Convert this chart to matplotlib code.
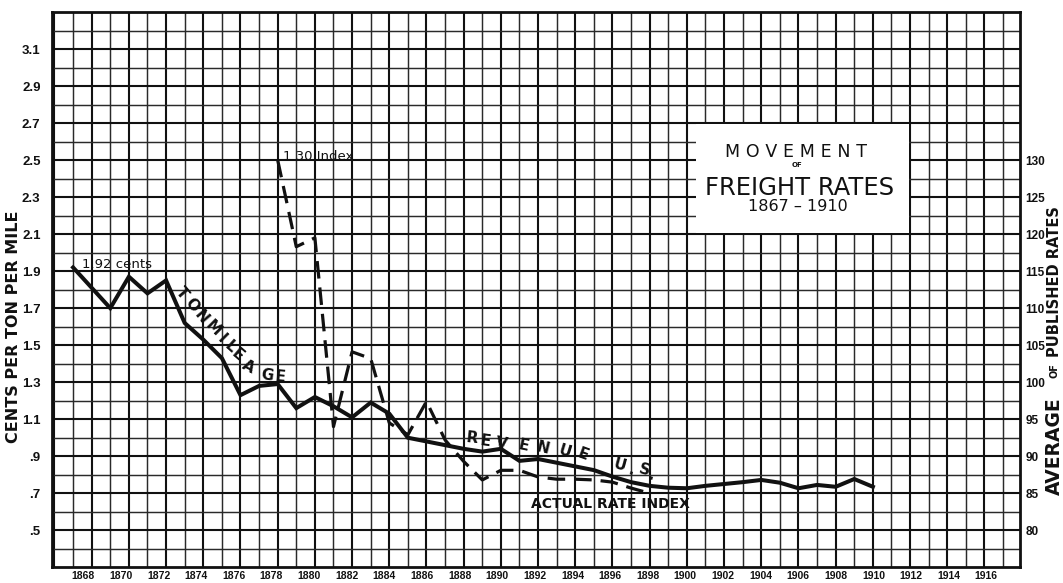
import matplotlib
matplotlib.use("Agg")
import matplotlib.pyplot as plt
import matplotlib.transforms as mtransforms
from matplotlib.patches import Rectangle
import numpy as np

# ---- data -------------------------------------------------------------
revenue_years = list(range(1867, 1911))
revenue_cents = [1.92, 1.81, 1.70, 1.87, 1.78, 1.85, 1.62, 1.53, 1.43, 1.23,
                 1.28, 1.29, 1.16, 1.22, 1.17, 1.11, 1.19, 1.13, 1.00, 0.98,
                 0.96, 0.94, 0.925, 0.94, 0.875, 0.885, 0.865, 0.845, 0.825, 0.79,
                 0.76, 0.74, 0.73, 0.727, 0.74, 0.75, 0.76, 0.772, 0.757, 0.727,
                 0.745, 0.735, 0.777, 0.735]

index_years = list(range(1878, 1899))
rate_index = [130.0, 118.3, 119.5, 94.0, 104.1, 103.2, 94.5, 92.9, 97.4, 92.2,
              89.3, 86.8, 88.1, 88.1, 87.2, 86.9, 86.9, 86.8, 86.5, 85.7, 85.0]

year_labels = list(range(1868, 1917, 2))
cent_ticks = [0.5, 0.7, 0.9, 1.1, 1.3, 1.5, 1.7, 1.9, 2.1, 2.3, 2.5, 2.7, 2.9, 3.1]
cent_tick_labels = [".5", ".7", ".9", "1.1", "1.3", "1.5", "1.7", "1.9",
                    "2.1", "2.3", "2.5", "2.7", "2.9", "3.1"]
index_ticks = [80, 85, 90, 95, 100, 105, 110, 115, 120, 125, 130]

# ---- styling ----------------------------------------------------------
narrow = ["Liberation Sans", "DejaVu Sans"]
ink = "#111111"

fig = plt.figure(figsize=(10.63, 5.83), dpi=100)
fig.patch.set_facecolor("white")
ax = fig.add_axes([51.7 / 1063, 15.7 / 583, (1020 - 51.7) / 1063, (567.3 - 12) / 583])
ax.set_xlim(1865.85, 1917.91)
ax.set_ylim(0.3, 3.3)

# graph-paper grid: heavy lines on even years / labelled values
ax.set_xticks(list(range(1866, 1918, 2)))
ax.set_xticks(list(range(1867, 1918, 2)), minor=True)
ax.set_yticks(cent_ticks, labels=cent_tick_labels)
ax.set_yticks(np.round(np.arange(0.4, 3.25, 0.2), 2), minor=True)
ax.grid(which="major", color=ink, linewidth=1.5)
ax.grid(which="minor", color="#2a2a2a", linewidth=1.05)
ax.set_axisbelow(True)
ax.tick_params(which="both", length=0)
ax.tick_params(axis="x", labelbottom=False)
ax.tick_params(axis="y", pad=8)
for lab in ax.get_yticklabels():
    lab.set_fontfamily(narrow)
    lab.set_fontsize(9.5)
    lab.set_fontweight("bold")
    lab.set_color(ink)
for sp in ax.spines.values():
    sp.set_linewidth(2.0)
    sp.set_color(ink)

# year labels along the bottom edge
xt = mtransforms.blended_transform_factory(ax.transData, ax.transAxes)
for yr in year_labels:
    shift = -0.45 + 0.55 * (yr - 1868) / 48
    ax.text(yr + shift, -0.016, str(yr), transform=xt, ha="center", va="center",
            fontsize=7.5, fontweight="bold", family=narrow, color=ink)

# title panel
ax.add_patch(Rectangle((1900.5, 2.107), 11.45, 0.587, facecolor="white",
                       edgecolor="none", zorder=1.5))
ax.text(1905.85, 2.544, "M\u2004O\u2004V\u2004E\u2004M\u2004E\u2004N\u2004T",
        ha="center", va="center", fontsize=12.5, color=ink, zorder=3)
ax.text(1905.9, 2.476, "OF", ha="center", va="center", fontsize=5,
        fontweight="bold", color=ink, zorder=3)
ax.text(1906.05, 2.349, "FREIGHT RATES", ha="center", va="center",
        fontsize=17.5, color=ink, zorder=3)
ax.text(1905.95, 2.247, "1867 \u2013 1910", ha="center", va="center",
        fontsize=11.5, color=ink, zorder=3)

# revenue per ton mile
ax.plot(revenue_years, revenue_cents, color=ink, linewidth=2.9,
        solid_joinstyle="miter", zorder=2)

# rate index on the right-hand scale
ax2 = ax.twinx()
ax2.set_ylim(75, 150)
ax2.set_yticks(index_ticks, labels=[str(v) for v in index_ticks])
ax2.tick_params(length=0, pad=4)
for lab in ax2.get_yticklabels():
    lab.set_fontfamily(narrow)
    lab.set_fontsize(8.5)
    lab.set_fontweight("bold")
    lab.set_color(ink)
for sp in ax2.spines.values():
    sp.set_visible(False)
ax2.plot(index_years, rate_index, color=ink, linewidth=2.3,
         linestyle=(0, (5.5, 2.8)), zorder=2)

# in-chart lettering
ax.text(1867.5, 1.935, "1.92 cents", ha="left", va="center", fontsize=9.5, color=ink)
ax.text(1878.3, 2.522, "1.30 Index", ha="left", va="center", fontsize=9.5, color=ink)

ton_mileage = [("T", 1872.84, 1.78, -50), ("O", 1873.38, 1.717, -50),
               ("N", 1873.91, 1.654, -50), ("M", 1874.54, 1.591, -45),
               ("I", 1874.99, 1.537, -45), ("L", 1875.44, 1.492, -42),
               ("E", 1875.82, 1.447, -40), ("A", 1876.42, 1.384, -28),
               ("G", 1877.41, 1.339, -8), ("E", 1878.12, 1.33, -5)]
for ch, x, y, rot in ton_mileage:
    ax.text(x, y, ch, ha="center", va="center", rotation=rot, fontsize=11,
            fontweight="bold", color=ink, zorder=3)

revenue_word = [("R", 1888.43, 1.0, -6), ("E", 1889.15, 0.982, -8),
                ("V", 1890.04, 0.97, -10), ("E", 1891.2, 0.955, -12),
                ("N", 1892.27, 0.943, -14), ("U", 1893.44, 0.928, -17),
                ("E", 1894.43, 0.91, -20),
                ("U", 1896.4, 0.85, -15), (".", 1897.0, 0.823, -15),
                ("S", 1897.7, 0.823, -15), (".", 1898.1, 0.798, -15)]
for ch, x, y, rot in revenue_word:
    ax.text(x, y, ch, ha="center", va="center", rotation=rot, fontsize=11,
            fontweight="bold", color=ink, zorder=3)

ax.text(1895.87, 0.642, "ACTUAL RATE INDEX", ha="center", va="center",
        fontsize=10, fontweight="bold", color=ink, zorder=3)

# axis titles
fig.text(14 / 1063, (583 - 327) / 583, "CENTS PER TON PER MILE", rotation=90,
         ha="center", va="center", fontsize=11.5, fontweight="bold", color=ink)
fig.text(1054.5 / 1063, (583 - 446) / 583, "AVERAGE", rotation=90,
         ha="center", va="center", fontsize=13.5, fontweight="bold", color=ink)
fig.text(1054.5 / 1063, (583 - 371) / 583, "OF", rotation=90,
         ha="center", va="center", fontsize=7, fontweight="bold", color=ink)
fig.text(1054.5 / 1063, (583 - 282) / 583, "PUBLISHED RATES", rotation=90,
         ha="center", va="center", fontsize=10.5, fontweight="bold", color=ink)

fig.savefig("out.png", dpi=100, facecolor="white")
